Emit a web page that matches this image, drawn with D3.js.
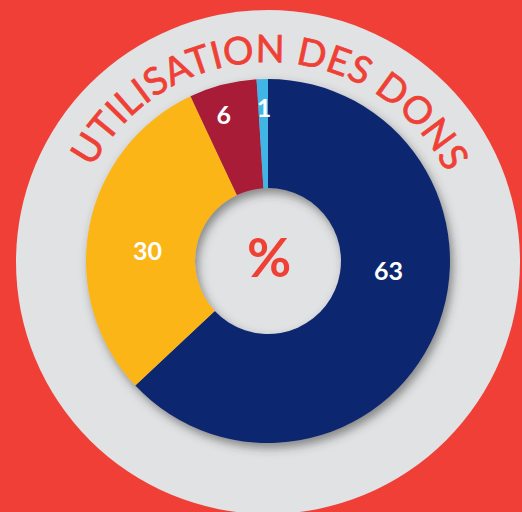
<!DOCTYPE html>
<html>
<head>
<meta charset="utf-8">
<script src="https://cdn.jsdelivr.net/npm/d3@7"></script>
<style>
  html, body { margin: 0; padding: 0; background: #EF3F37; }
  svg { display: block; }
</style>
</head>
<body>
<div id="viz"></div>
<script>
'use strict';

// data
const categories = ['A', 'B', 'C', 'D'];
const values = [63, 30, 6, 1];
const valueLabels = ['63', '30', '6', '1'];
const title = 'UTILISATION DES DONS';
const centerLabel = '%';

const palette = ['#0E2870', '#FBB517', '#A81A37', '#41B6E6'];

const width = 522;
const height = 512;
const cx = 268, cy = 261;
const outerR = 182, innerR = 73;

const svg = d3.select('#viz').append('svg')
    .attr('width', width)
    .attr('height', height);

// shadow under the donut
const defs = svg.append('defs');
defs.append('filter')
    .attr('id', 'shadow')
    .attr('x', '-20%').attr('y', '-20%')
    .attr('width', '140%').attr('height', '140%')
  .append('feDropShadow')
    .attr('dx', 3).attr('dy', 5)
    .attr('stdDeviation', 5)
    .attr('flood-color', '#3a3a3a')
    .attr('flood-opacity', 0.55);

svg.append('rect')
    .attr('width', width).attr('height', height)
    .attr('fill', '#EF3F37');

// big grey disc
svg.append('circle')
    .attr('cx', cx).attr('cy', cy + 1)
    .attr('r', 252)
    .attr('fill', '#E1E2E3');

const g = svg.append('g').attr('transform', `translate(${cx},${cy})`);

const color = d3.scaleOrdinal().domain(categories).range(palette);
const pie = d3.pie().sort(null).value(d => d.value);
const arcs = pie(categories.map((c, i) => ({ cat: c, value: values[i], label: valueLabels[i] })));

const arc = d3.arc().innerRadius(innerR).outerRadius(outerR);

g.append('g')
    .attr('filter', 'url(#shadow)')
  .selectAll('path')
  .data(arcs)
  .join('path')
    .attr('d', arc)
    .attr('fill', d => color(d.data.cat));

// label angle: big slices sit near the horizontal, small ones near their start
function labelPos(d) {
    const span = d.endAngle - d.startAngle;
    let a, r;
    if (d.data.value >= 10) {
        const horiz = [Math.PI / 2, 3 * Math.PI / 2].find(h => h >= d.startAngle && h <= d.endAngle);
        a = (horiz !== undefined ? horiz : (d.startAngle + d.endAngle) / 2) + 0.08;
        r = 121;
    } else {
        a = d.startAngle + span * 0.35 + 0.015;
        r = 153;
    }
    return [Math.sin(a) * r, -Math.cos(a) * r];
}

g.append('g')
  .selectAll('text')
  .data(arcs)
  .join('text')
    .attr('transform', d => `translate(${labelPos(d)})`)
    .attr('text-anchor', 'middle')
    .attr('dy', '0.36em')
    .attr('fill', '#fff')
    .style('font-family', 'Lato, sans-serif')
    .style('font-weight', 700)
    .style('font-size', '25px')
    .text(d => d.data.label);

g.append('text')
    .attr('x', 1).attr('y', -3)
    .attr('text-anchor', 'middle')
    .attr('dy', '0.36em')
    .attr('fill', '#EF4036')
    .style('font-family', 'Lato, sans-serif')
    .style('font-weight', 700)
    .style('font-size', '54px')
    .text(centerLabel);

// curved title
const titleR = 199;
defs.append('path')
    .attr('id', 'titlePath')
    .attr('d', `M${cx - titleR},${cy} A${titleR},${titleR} 0 0 1 ${cx + titleR},${cy}`);

svg.append('text')
    .attr('fill', '#EF4036')
    .attr('stroke', '#EF4036')
    .attr('stroke-width', 0.7)
    .style('font-family', 'Lato, sans-serif')
    .style('font-weight', 400)
    .style('font-size', '38px')
    .style('letter-spacing', '0.5px')
  .append('textPath')
    .attr('href', '#titlePath')
    .attr('startOffset', '50.5%')
    .attr('text-anchor', 'middle')
    .text(title);
</script>
</body>
</html>
